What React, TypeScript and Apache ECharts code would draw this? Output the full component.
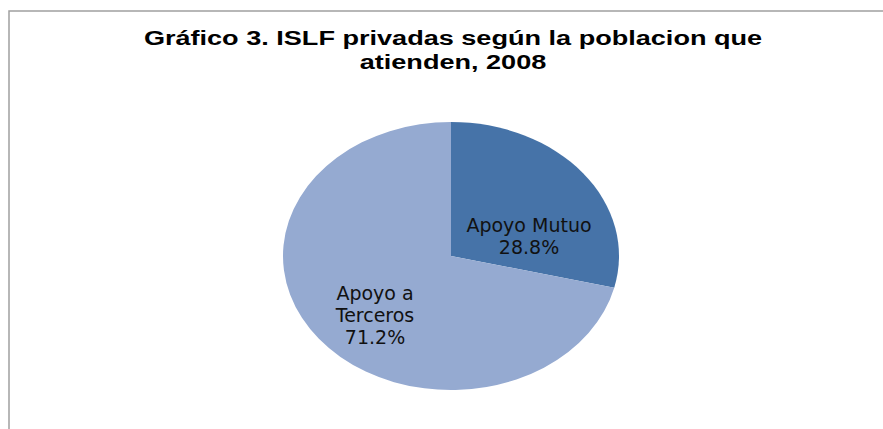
import React, { useEffect, useRef } from "react";
import * as echarts from "echarts";

const titleLines = ["Gráfico 3. ISLF privadas según la poblacion que", "atienden, 2008"];
const categories = ["Apoyo Mutuo", "Apoyo a\nTerceros"];
const values = [28.8, 71.2];
const colors = ["#4673A8", "#95AAD1"];

export default function App() {
  const ref = useRef<HTMLDivElement>(null);
  useEffect(() => {
    document.body.style.margin = "0";
    const chart = echarts.init(ref.current!, null, { renderer: "svg" });
    const total = values.reduce((a, b) => a + b, 0);
    const cx = 451;
    const cy = 256;
    const rx = 168;
    const ry = 134;
    const labelOffsets = [
      [78, -20],
      [-76, 59],
    ];
    chart.setOption({
      animation: false,
      backgroundColor: "#ffffff",
      graphic: [
        {
          type: "rect",
          shape: { x: 9, y: 11, width: 1000, height: 1000 },
          style: { fill: "none", stroke: "#a0a0a0", lineWidth: 1.5 },
          silent: true,
        },
        {
          type: "text",
          x: 453,
          y: 26,
          scaleX: 1.29,
          style: {
            text: titleLines.join("\n"),
            fontFamily: "Liberation Sans, Arial, sans-serif",
            fontWeight: "bold",
            fontSize: 21,
            lineHeight: 24,
            fill: "#000",
            align: "center",
            verticalAlign: "top",
          },
        },
      ],
      series: [
        {
          type: "custom",
          coordinateSystem: "none",
          data: values.map((v, i) => ({ name: categories[i], value: v })),
          renderItem: (params: any, api: any) => {
            const i = params.dataIndex;
            let before = 0;
            for (let k = 0; k < i; k++) before += values[k];
            const v = api.value(0);
            const start = -Math.PI / 2 + (before / total) * Math.PI * 2;
            const end = start + (v / total) * Math.PI * 2;
            const pct = ((v / total) * 100).toFixed(1) + "%";
            return {
              type: "group",
              children: [
                {
                  type: "sector",
                  x: cx,
                  y: cy,
                  scaleY: ry / rx,
                  shape: { cx: 0, cy: 0, r: rx, r0: 0, startAngle: start, endAngle: end, clockwise: true },
                  style: { fill: colors[i] },
                },
                {
                  type: "text",
                  x: cx + labelOffsets[i][0],
                  y: cy + labelOffsets[i][1],
                  style: {
                    text: categories[i] + "\n" + pct,
                    fontFamily: "DejaVu Sans, sans-serif",
                    fontSize: 19,
                    lineHeight: 22,
                    fill: "#111",
                    align: "center",
                    verticalAlign: "middle",
                  },
                },
              ],
            };
          },
        },
      ],
    });
    return () => chart.dispose();
  }, []);
  return <div ref={ref} style={{ width: 883, height: 429 }} />;
}
